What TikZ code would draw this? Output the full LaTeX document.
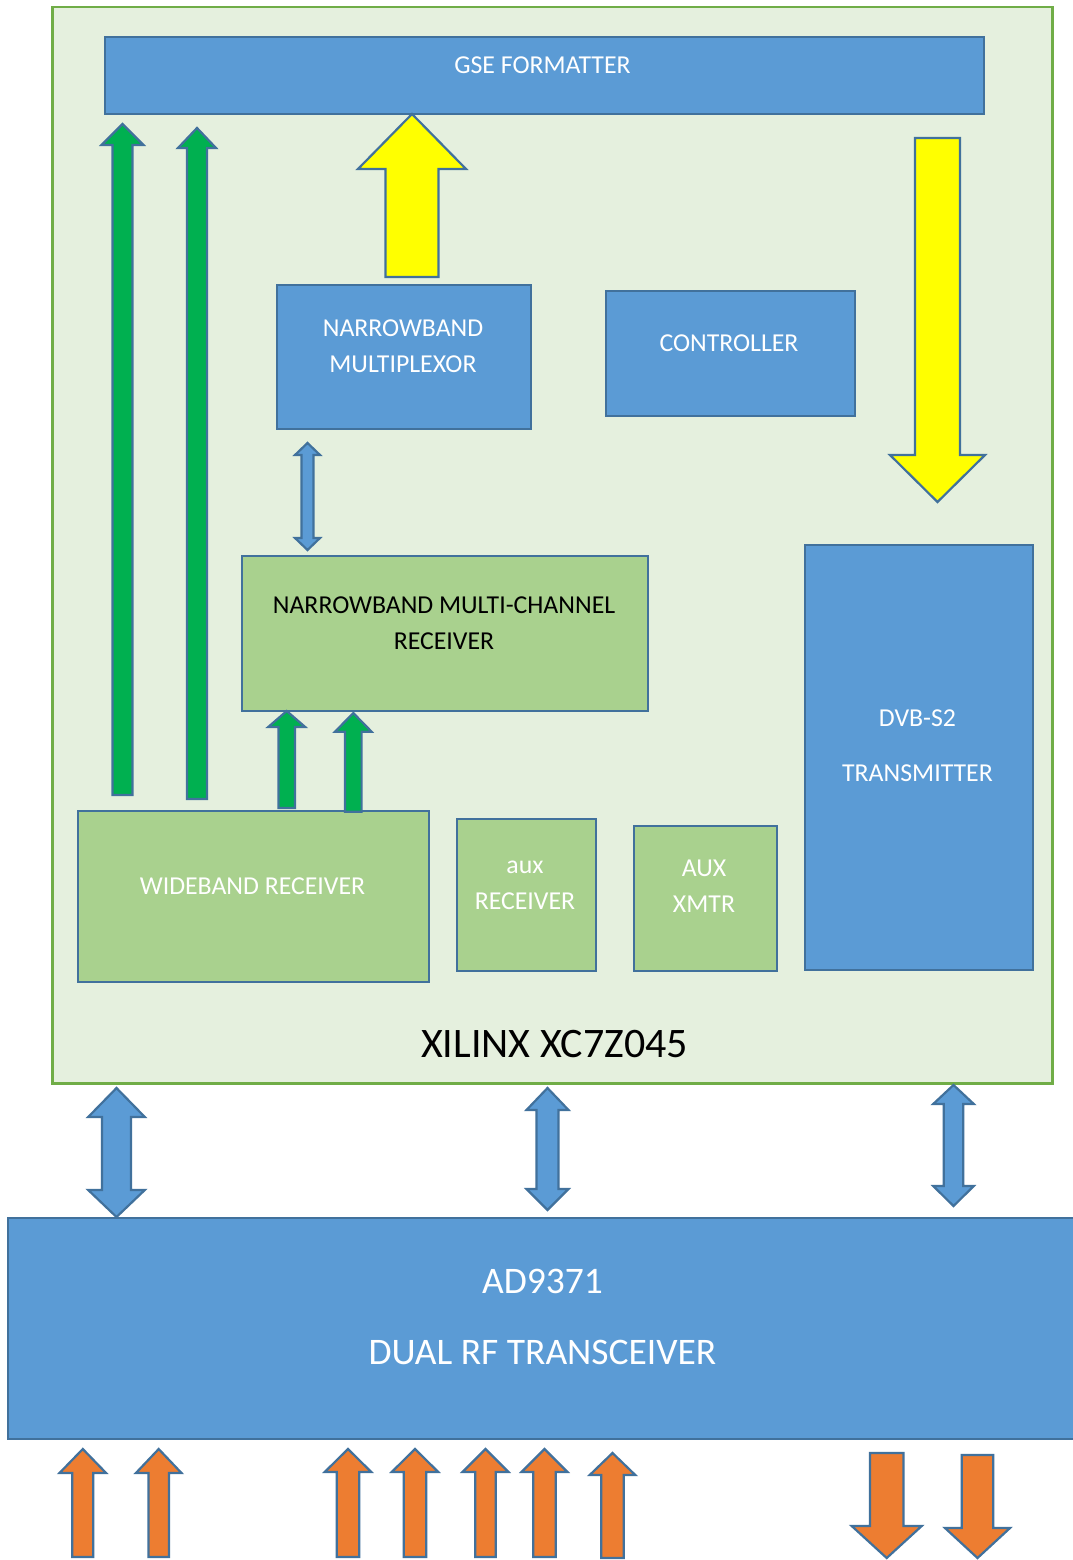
\documentclass[tikz,border=0pt]{standalone}
\usepackage{fontspec}
\setmainfont{Carlito}
\definecolor{bfill}{HTML}{5B9BD5}
\definecolor{bline}{HTML}{41719C}
\definecolor{gfill}{HTML}{A9D18E}
\definecolor{bgfill}{HTML}{E5F0DE}
\definecolor{gline}{HTML}{70AD47}
\definecolor{arrgreen}{HTML}{00B050}
\definecolor{orng}{HTML}{ED7D31}
\definecolor{yel}{HTML}{FFFF00}
% single block arrow: style, cx, shaft half width, head half width, tip y, head base y, tail y
\newcommand\blockarr[7]{%
  \draw[#1] (#2,#5) -- ({#2+#4},#6) -- ({#2+#3},#6) -- ({#2+#3},#7) -- ({#2-#3},#7)
    -- ({#2-#3},#6) -- ({#2-#4},#6) -- cycle;}
% double block arrow: style, cx, shaft hw, head hw, tip1, base1, base2, tip2
\newcommand\dblarr[8]{%
  \draw[#1] (#2,#5) -- ({#2+#4},#6) -- ({#2+#3},#6) -- ({#2+#3},#7) -- ({#2+#4},#7)
    -- (#2,#8) -- ({#2-#4},#7) -- ({#2-#3},#7) -- ({#2-#3},#6) -- ({#2-#4},#6) -- cycle;}
\begin{document}
\begin{tikzpicture}[x=1pt,y=-1pt,
  bluebox/.style={draw=bline,fill=bfill,line width=2pt,anchor=north west,inner sep=0pt},
  greenbox/.style={draw=bline,fill=gfill,line width=2pt,anchor=north west,inner sep=0pt},
  boxtext/.style={text=white,align=center,inner sep=0pt,font=\fontsize{25.8}{36}\selectfont},
  darktext/.style={text=black,align=center,inner sep=0pt,font=\fontsize{25.8}{36}\selectfont},
  arrg/.style={draw=bline,fill=arrgreen,line width=2.2pt,line join=miter},
  arry/.style={draw=bline,fill=yel,line width=2.2pt,line join=miter},
  arrb/.style={draw=bline,fill=bfill,line width=2.2pt,line join=miter},
  arro/.style={draw=bline,fill=orng,line width=2.2pt,line join=miter}]
\useasboundingbox (0,0) rectangle (1073,1560);
\fill[white] (0,0) rectangle (1073,1560);
% outer FPGA box
\node[draw=gline,fill=bgfill,line width=2.5pt,anchor=north west,inner sep=0pt,
  minimum width=1000,minimum height=1076] (fpga) at (51,6) {};
% boxes
\node[bluebox,minimum width=879,minimum height=77] (gse) at (104,36) {};
\node[bluebox,minimum width=254,minimum height=144] (nbmux) at (276,284) {};
\node[bluebox,minimum width=249,minimum height=125] (ctrl) at (605,290) {};
\node[greenbox,minimum width=406,minimum height=155] (nbmc) at (241,555) {};
\node[greenbox,minimum width=351,minimum height=171] (wb) at (77,810) {};
\node[greenbox,minimum width=139,minimum height=152] (auxr) at (456,818) {};
\node[greenbox,minimum width=143,minimum height=145] (auxx) at (633,825) {};
\node[bluebox,minimum width=228,minimum height=425] (dvb) at (804,544) {};
\node[bluebox,minimum width=1080,minimum height=221] (ad) at (7,1217) {};
% texts
\node[boxtext] (tgse) at (542.5,65) {GSE FORMATTER};
\node[boxtext] (tnbmux) at (403,346) {NARROWBAND\\MULTIPLEXOR};
\node[boxtext] (tctrl) at (729,343) {CONTROLLER};
\node[darktext] (tnbmc) at (444,623.5) {NARROWBAND MULTI-CHANNEL\\RECEIVER};
\node[boxtext] (twb) at (252.5,886) {WIDEBAND RECEIVER};
\node[boxtext] (tauxr) at (525,885) {aux\\RECEIVER};
\node[boxtext] (tauxx) at (704,886.5) {AUX\\XMTR};
\node[boxtext] (tdvb) at (917.5,745.5) {DVB-S2\\[19pt]TRANSMITTER};
\node[text=black,inner sep=0pt,font=\fontsize{42}{50}\selectfont] (txil) at (554.5,1044) {XILINX XC7Z045};
\node[text=white,align=center,inner sep=0pt,font=\fontsize{37.5}{71}\selectfont] (tad) at (542.5,1316.6) {AD9371\\DUAL RF TRANSCEIVER};
% arrows inside FPGA
\blockarr{arrg}{122.5}{10}{21}{124}{145}{795}
\blockarr{arrg}{197}{10}{19}{128}{148}{799}
\blockarr{arry}{412}{26.5}{54}{114}{169}{277}
\blockarr{arry}{937.5}{22.5}{47.5}{502}{455}{138}
\dblarr{arrb}{307.5}{6}{12.5}{443}{455}{538}{550}
\blockarr{arrg}{286.7}{8.3}{18.5}{711}{727}{808}
\blockarr{arrg}{353.3}{8.3}{18.3}{713}{731.7}{811.7}
% arrows between FPGA and transceiver
\dblarr{arrb}{116.5}{14.5}{28.3}{1088}{1117}{1190}{1217}
\dblarr{arrb}{547.5}{11}{21}{1088}{1110}{1189}{1210}
\dblarr{arrb}{953.5}{9.7}{20.3}{1085}{1104}{1186}{1206}
% RF arrows
\blockarr{arro}{82.8}{10.5}{23.3}{1449}{1473}{1557}
\blockarr{arro}{158.7}{10.3}{22.8}{1449}{1473}{1557}
\blockarr{arro}{348}{11.3}{23.3}{1449}{1472}{1557}
\blockarr{arro}{415}{11.3}{23.3}{1449}{1472}{1557}
\blockarr{arro}{485.5}{10.3}{23}{1449}{1472}{1557}
\blockarr{arro}{544.5}{11.3}{23}{1449}{1472}{1557}
\blockarr{arro}{612.5}{11.2}{22.8}{1453}{1475}{1558}
\blockarr{arro}{886.7}{16.7}{35}{1558}{1526}{1453}
\blockarr{arro}{977.5}{15.8}{32.5}{1558}{1528}{1455}
\end{tikzpicture}
\end{document}
